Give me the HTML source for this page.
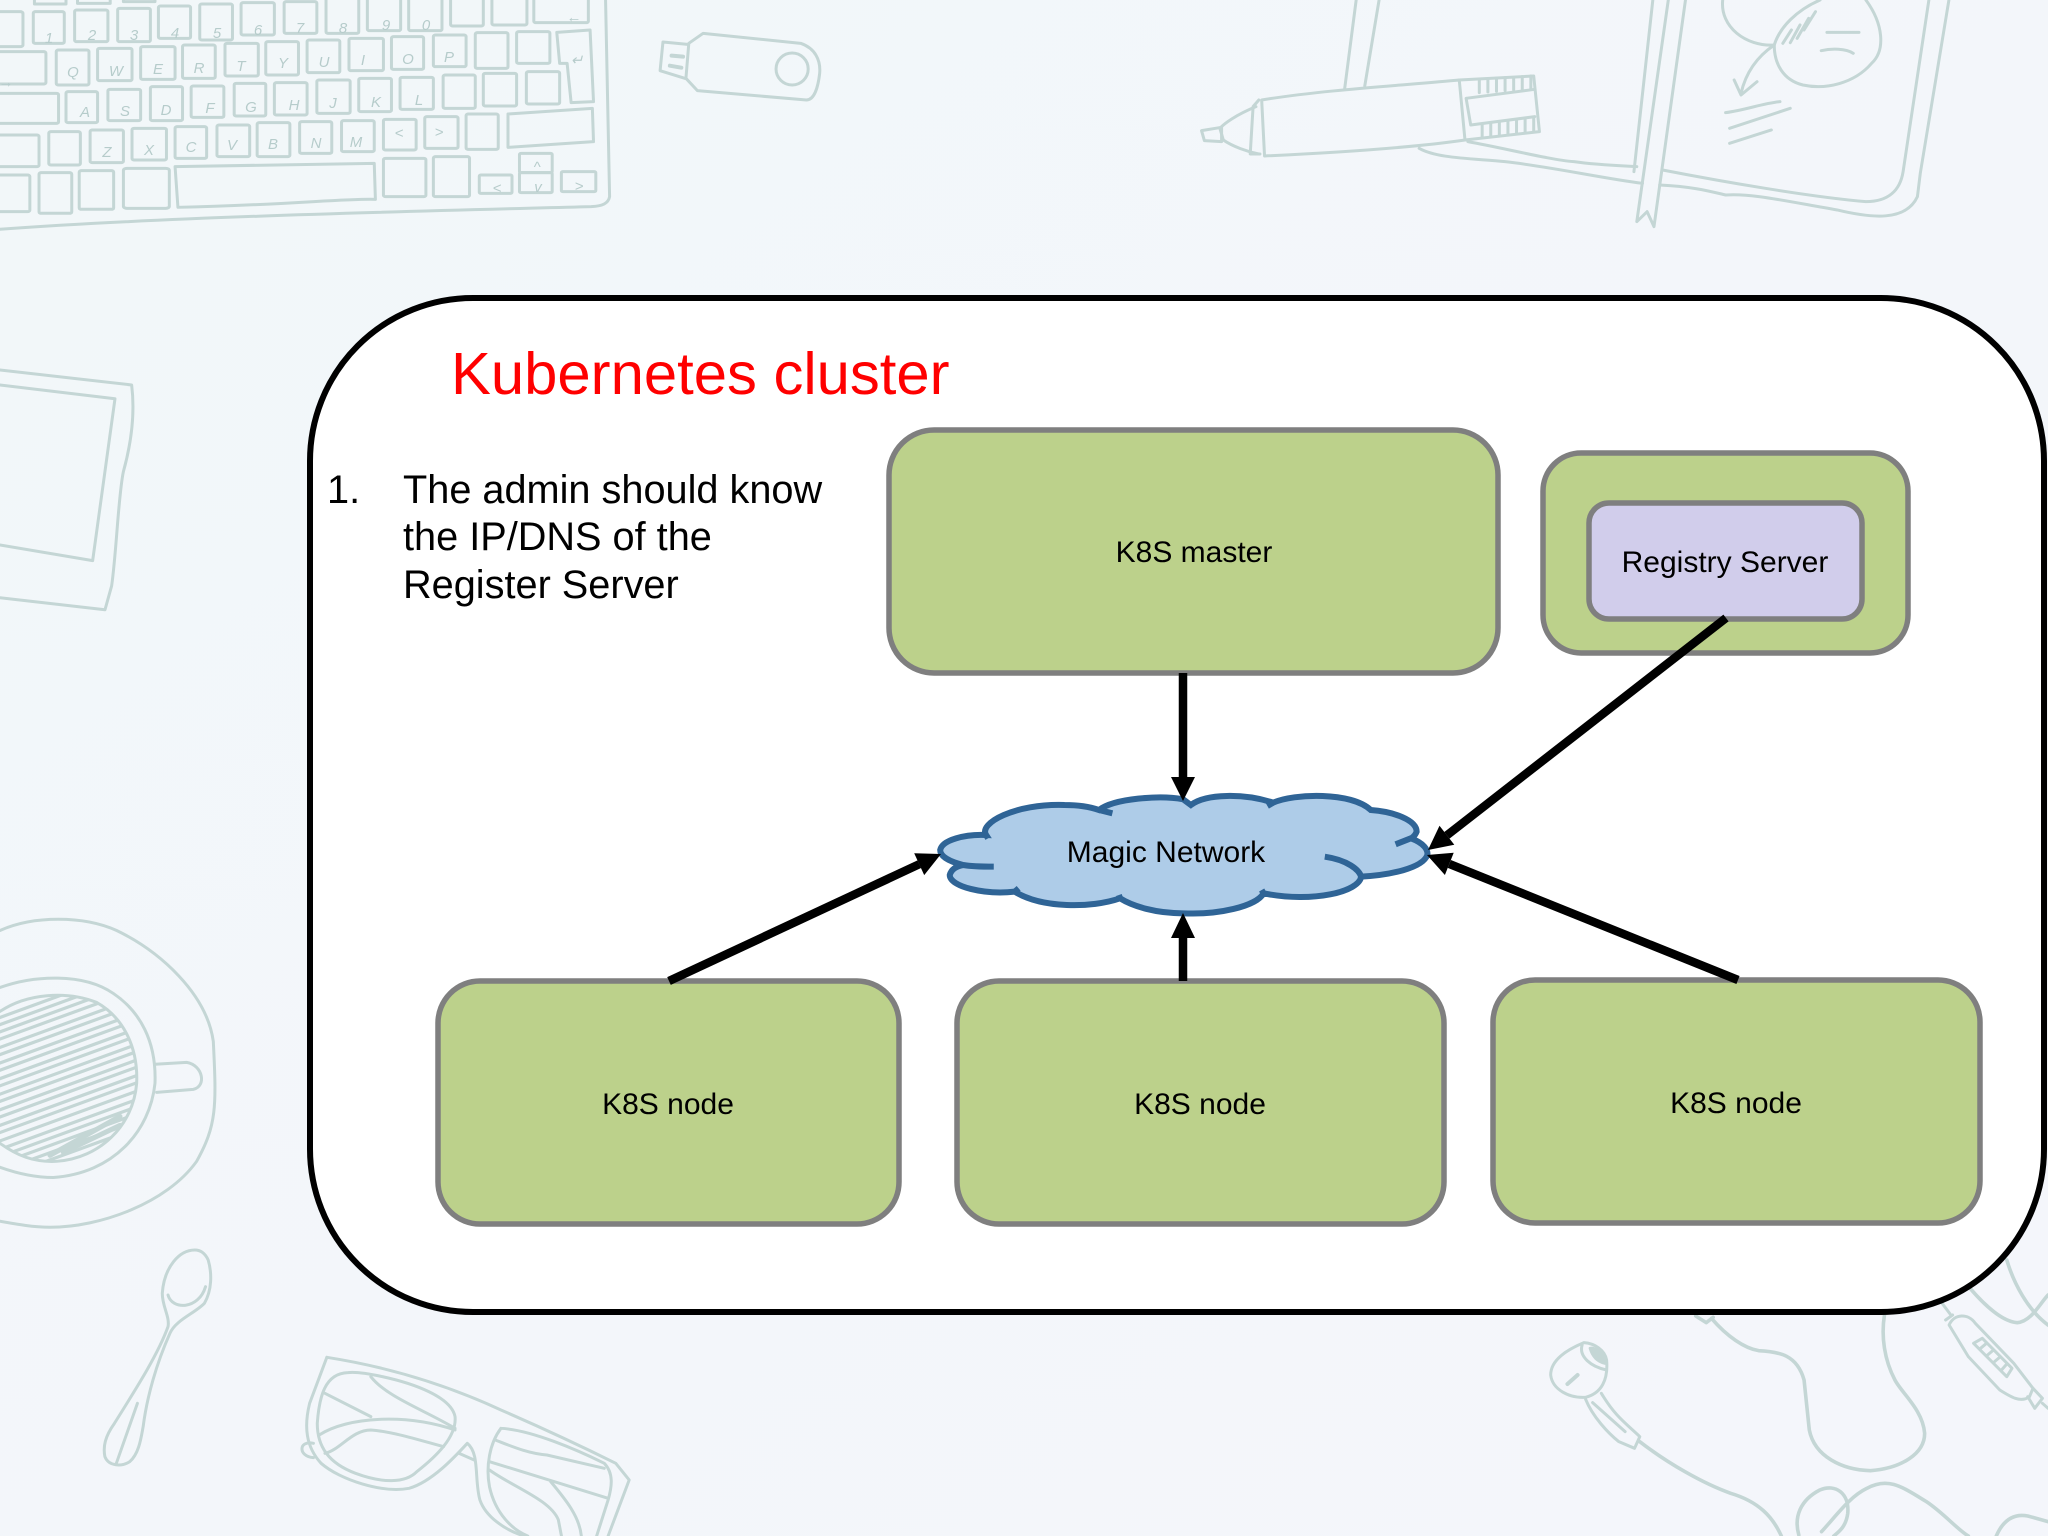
<!DOCTYPE html>
<html><head><meta charset="utf-8"><title>Kubernetes cluster</title>
<style>
html,body{margin:0;padding:0;width:2048px;height:1536px;overflow:hidden;background:#f3f6fa}
svg{display:block}
text{font-family:"Liberation Sans",sans-serif}
.s *{fill:none;stroke:#c4d6d5;stroke-width:3;stroke-linecap:round;stroke-linejoin:round;vector-effect:non-scaling-stroke}
.k text{font-size:15px;fill:#b6cccb;text-anchor:middle;font-style:italic}
</style></head><body>
<svg width="2048" height="1536" viewBox="0 0 2048 1536" xmlns="http://www.w3.org/2000/svg">
<defs><linearGradient id="bg" x1="0" y1="0" x2="1" y2="1"><stop offset="0" stop-color="#f2f7f9"/><stop offset="1" stop-color="#f4f6fb"/></linearGradient>
<clipPath id="cupclip"><path d="M0 1120 C80 1090 200 1085 290 1105 C370 1130 415 1180 410 1240 C400 1310 300 1365 170 1370 C100 1372 50 1360 0 1340 Z"/></clipPath></defs>
<rect width="2048" height="1536" fill="url(#bg)"/>

<!-- keyboard -->
<g class="s" transform="scale(.574,.3333)">
<path d="M1055 0 L1062 590 C1060 610 1050 618 1030 620 C700 635 300 650 0 688"/>
<rect x="-5" y="35" width="45" height="105" rx="5"/><rect x="58" y="35" width="54" height="95" rx="4"/><rect x="130" y="30" width="58" height="95" rx="4"/><rect x="205" y="25" width="57" height="100" rx="4"/><rect x="276" y="18" width="56" height="97" rx="4"/><rect x="348" y="12" width="57" height="108" rx="4"/><rect x="420" y="8" width="58" height="97" rx="4"/><rect x="495" y="5" width="57" height="95" rx="4"/><rect x="568" y="-10" width="57" height="110" rx="4"/><rect x="640" y="-10" width="58" height="102" rx="4"/><rect x="712" y="-10" width="58" height="102" rx="4"/><rect x="785" y="-10" width="57" height="88" rx="4"/><rect x="857" y="-10" width="61" height="85" rx="4"/><rect x="930" y="-10" width="95" height="78" rx="4"/>
<path d="M60 0V12H115V0M135 0V10H192V0M215 0V5H270V0"/>
<rect x="-5" y="155" width="85" height="97" rx="4"/><rect x="98" y="150" width="57" height="105" rx="4"/><rect x="170" y="145" width="60" height="97" rx="4"/><rect x="245" y="140" width="60" height="98" rx="4"/><rect x="318" y="135" width="57" height="100" rx="4"/><rect x="392" y="130" width="58" height="98" rx="4"/><rect x="463" y="125" width="57" height="100" rx="4"/><rect x="535" y="120" width="57" height="98" rx="4"/><rect x="608" y="115" width="60" height="97" rx="4"/><rect x="682" y="110" width="56" height="98" rx="4"/><rect x="755" y="105" width="57" height="95" rx="4"/><rect x="828" y="98" width="57" height="107" rx="4"/><rect x="900" y="95" width="58" height="95" rx="4"/>
<path d="M970 97 L1028 90 L1034 305 L995 308 L988 190 L975 190 Z"/>
<rect x="-5" y="280" width="107" height="90" rx="4"/><rect x="115" y="275" width="55" height="93" rx="4"/><rect x="188" y="268" width="57" height="94" rx="4"/><rect x="262" y="260" width="56" height="102" rx="4"/><rect x="333" y="258" width="57" height="94" rx="4"/><rect x="408" y="250" width="55" height="98" rx="4"/><rect x="478" y="248" width="57" height="97" rx="4"/><rect x="552" y="240" width="58" height="100" rx="4"/><rect x="625" y="235" width="57" height="100" rx="4"/><rect x="697" y="232" width="58" height="96" rx="4"/><rect x="772" y="225" width="56" height="100" rx="4"/><rect x="842" y="220" width="58" height="98" rx="4"/><rect x="917" y="215" width="58" height="97" rx="4"/>
<rect x="-5" y="405" width="73" height="95" rx="4"/><rect x="85" y="395" width="55" height="100" rx="4"/><rect x="157" y="390" width="58" height="98" rx="4"/><rect x="230" y="385" width="60" height="95" rx="4"/><rect x="305" y="380" width="55" height="95" rx="4"/><rect x="378" y="375" width="57" height="95" rx="4"/><rect x="448" y="368" width="57" height="102" rx="4"/><rect x="522" y="365" width="56" height="95" rx="4"/><rect x="595" y="362" width="57" height="93" rx="4"/><rect x="668" y="358" width="57" height="92" rx="4"/><rect x="740" y="350" width="58" height="95" rx="4"/><rect x="812" y="342" width="56" height="106" rx="4"/>
<path d="M885 342 L1032 325 L1034 425 L885 442 Z"/>
<rect x="-5" y="525" width="57" height="110" rx="4"/><rect x="68" y="518" width="57" height="122" rx="4"/><rect x="138" y="512" width="60" height="116" rx="4"/><rect x="215" y="505" width="80" height="120" rx="6"/>
<path d="M305 500 L652 490 L654 598 C600 595 500 615 310 622 Z"/>
<rect x="668" y="475" width="74" height="115" rx="4"/><rect x="755" y="470" width="63" height="120" rx="4"/><rect x="835" y="525" width="57" height="55" rx="3"/><rect x="905" y="460" width="57" height="58" rx="3"/><rect x="905" y="518" width="57" height="60" rx="3"/><rect x="978" y="515" width="60" height="60" rx="3"/>
<!-- usb -->
<path d="M1200 130 L1225 100 L1395 130 C1420 145 1430 180 1428 220 C1425 265 1418 300 1405 300 L1215 272 L1195 235 Z"/>
<path d="M1198 133 L1155 126 L1150 212 L1193 235"/>
<ellipse cx="1380" cy="207" rx="28" ry="48"/>
<path d="M1170 167 L1190 170M1167 197 L1187 203" style="stroke-width:4"/>
</g>
<g class="k">
<text x="49" y="43">1</text><text x="92" y="40">2</text><text x="134" y="40">3</text><text x="175" y="38">4</text><text x="217" y="38">5</text><text x="258" y="35">6</text><text x="300" y="33">7</text><text x="343" y="33">8</text><text x="386" y="30">9</text><text x="426" y="30">0</text><text x="574" y="22">←</text>
<text x="73" y="77">Q</text><text x="116" y="76">W</text><text x="158" y="74">E</text><text x="199" y="73">R</text><text x="241" y="71">T</text><text x="283" y="68">Y</text><text x="324" y="67">U</text><text x="363" y="65">I</text><text x="408" y="64">O</text><text x="449" y="62">P</text><text x="577" y="65">↵</text><text x="6" y="87">→</text>
<text x="85" y="117">A</text><text x="125" y="116">S</text><text x="166" y="115">D</text><text x="210" y="113">F</text><text x="251" y="112">G</text><text x="294" y="110">H</text><text x="333" y="108">J</text><text x="376" y="107">K</text><text x="419" y="105">L</text>
<text x="107" y="157">Z</text><text x="149" y="155">X</text><text x="191" y="152">C</text><text x="232" y="150">V</text><text x="273" y="149">B</text><text x="316" y="148">N</text><text x="356" y="147">M</text><text x="399" y="138">&lt;</text><text x="439" y="137">&gt;</text>
<text x="537" y="172">^</text><text x="538" y="192">v</text><text x="497" y="193">&lt;</text><text x="579" y="191">&gt;</text>
</g>

<!-- marker + notebook -->
<g class="s" transform="translate(1150,0) scale(.5727,.3333)">
<path d="M195 300 C300 270 450 255 540 240 L550 420 C450 445 300 460 200 468 Z"/>
<path d="M190 300 L180 320 L175 462 L192 462"/>
<path d="M185 320 C150 345 130 370 122 385 L128 420 C145 440 170 455 190 462"/>
<path d="M90 392 L125 382 L125 425 L95 422Z"/>
<path d="M540 240 L670 228 L680 395 L550 420"/>
<path d="M552 295 L672 268M560 375 L672 350M552 295 L560 375"/>
<path d="M575 238V278M590 236V276M605 234V274M620 233V272M635 232V270M650 230V268M665 228V265M580 372V410M595 370V408M610 368V405M625 365V402M640 362V400M655 358V398M670 354V396"/>
<path d="M360 0 L340 265M400 0 L375 258"/>
<path d="M555 425 C620 445 700 480 740 485 C780 495 830 498 850 500"/>
<path d="M470 445 C500 475 560 475 620 485 C700 500 790 535 860 550"/>
<path d="M895 510 C1000 545 1150 590 1250 605 C1290 605 1310 570 1315 515 L1360 0"/>
<path d="M890 555 C950 560 980 575 1005 585 C1050 580 1100 600 1200 630 C1260 655 1320 665 1340 590 L1345 520 L1395 0"/>
<path d="M878 0 L845 515M905 0 L850 665 L868 635 L880 680 L935 0"/>
<path d="M1000 0 C995 80 1040 140 1090 135M1250 0 C1280 70 1285 150 1260 190 C1230 250 1180 270 1140 255 C1105 240 1090 190 1090 135 C1100 80 1130 30 1170 0"/>
<path d="M1090 135 C1060 170 1040 220 1032 280M1020 240 L1032 285 L1060 245"/>
<path d="M1105 130 L1120 90M1118 128 L1135 75M1130 115 L1150 55M1142 90 L1162 35"/>
<path d="M1182 97 H1238M1172 152 C1190 145 1215 145 1228 160M1005 338 C1040 330 1070 310 1100 305M1012 385 L1118 325M1012 430 L1085 390"/>
</g>

<!-- tablet + cup -->
<g class="s" transform="translate(0,340) scale(.3333,.5995)">
<path d="M0 50 L395 75 C405 120 395 170 370 220 C355 260 350 350 335 410 L315 450 L0 430"/>
<path d="M0 75 L345 98 L278 368 L0 342"/>
<path d="M0 985 C100 960 250 960 350 985 C480 1020 620 1090 640 1170 C650 1280 650 1310 590 1370 C500 1440 300 1480 150 1480 C100 1480 50 1475 0 1470"/>
<path d="M0 1080 C100 1060 250 1055 340 1090 C420 1120 470 1170 465 1240 C450 1320 340 1390 160 1397 C100 1397 50 1390 0 1380"/>
<path d="M0 1120 C80 1090 200 1085 290 1105 C370 1130 415 1180 410 1240 C400 1310 300 1365 170 1370 C100 1372 50 1360 0 1340"/>
<path d="M465 1208 L560 1205 C610 1210 620 1245 580 1250 L470 1255"/>
<g clip-path="url(#cupclip)">
<path style="stroke-width:3.2" d="M0 1130 L420 1045M0 1142 L420 1057M0 1154 L420 1069M0 1166 L420 1081M0 1180 L420 1095M0 1192 L420 1107M0 1206 L420 1121M0 1218 L420 1133M0 1232 L420 1147M0 1244 L420 1159M0 1258 L420 1173M0 1270 L420 1185M0 1284 L420 1199M0 1296 L420 1211M0 1310 L420 1225M0 1322 L420 1237M0 1336 L420 1251M0 1350 L420 1265M0 1362 L420 1277M0 1374 L420 1289M0 1386 L420 1301M0 1398 L420 1313"/>
<path style="stroke-width:5" d="M150 1360 L360 1295M190 1355 L360 1310"/>
</g>
</g>

<!-- spoon + glasses -->
<g class="s" transform="translate(80,1230) scale(.3827,.3333)">
<path d="M300 60 C260 60 220 110 215 190 C215 230 235 260 230 290 C205 370 150 470 90 580 C65 620 60 650 65 680 C75 710 110 710 130 695 C155 670 160 620 165 590 C175 500 200 400 235 310 C250 270 300 250 325 220 C345 180 345 130 335 90 C325 65 310 60 300 60 Z"/>
<path d="M230 195 C240 240 310 240 328 170M150 520 L95 700"/>
<path d="M645 382 C800 410 950 460 1100 540 C1220 600 1330 660 1400 700 L1435 750 L1380 918"/>
<path d="M645 382 L600 520 C585 590 590 650 630 700 C680 750 790 790 860 775 C920 755 980 680 1012 640 C1045 670 1030 750 1045 810 C1060 860 1110 900 1160 918"/>
<path d="M700 428 C640 430 625 500 620 580 C620 650 650 700 720 730 C790 760 850 760 880 725 C930 680 985 620 980 560 C970 500 870 460 790 440 C750 430 720 425 700 428 Z"/>
<path d="M1100 595 C1070 640 1060 710 1070 770 C1085 850 1130 900 1170 918M1100 595 C1180 600 1300 660 1370 700 C1395 730 1390 770 1380 810 L1350 918"/>
<path d="M640 490 L760 560M760 440 C800 500 900 540 980 595M625 615 C700 560 850 550 980 600M640 670 C680 660 710 600 760 600 C820 605 900 635 950 650M990 670 L1030 690M1085 630 C1130 650 1170 670 1220 675 L1370 715M1070 695 L1380 805M1070 720 C1130 770 1230 810 1250 870 L1258 918M1230 755 C1270 810 1305 860 1310 918"/>
<path d="M610 640 C570 630 570 680 610 683"/>
</g>

<!-- earphones -->
<g class="s" transform="translate(1500,1260) scale(.3495,.3333)">
<path d="M240 248 C190 270 145 300 145 345 C150 390 200 415 245 412 C290 400 310 360 305 300 C300 270 270 250 240 248 Z"/>
<path d="M235 255 C225 290 260 320 305 330"/>
<path d="M258 265 C275 260 305 290 300 310 C280 305 265 290 258 265Z" style="fill:#c4d6d5"/>
<path d="M193 372 L222 345" style="stroke-width:4"/>
<path d="M245 418 C265 470 310 520 340 545 L385 565 L400 530 C360 490 330 470 290 400M265 428 L358 515"/>
<path style="stroke-width:3.6" d="M400 545 C480 610 580 670 660 700 C740 725 780 770 805 828"/>
<path style="stroke-width:3.6" d="M605 175 C650 230 700 265 740 272 C800 275 850 285 870 360 L885 510 C900 590 980 630 1060 632 C1150 625 1215 580 1215 520 C1210 450 1150 400 1130 360 C1100 300 1090 230 1100 165M560 168 L590 188 L610 172"/>
<path style="stroke-width:3.6" d="M855 825 C840 770 860 720 915 690 C960 670 1000 700 995 760 C990 800 970 815 955 828M920 815 C960 770 1000 710 1050 685 C1110 650 1150 680 1220 725 C1270 760 1310 810 1340 828M1420 828 C1440 780 1470 760 1510 768 L1568 785"/>
<path d="M1285 195 C1300 160 1340 160 1360 190 L1470 310 L1525 385 L1515 410 C1490 430 1460 410 1430 390 L1340 290 Z"/>
<path d="M1265 130 L1290 165M1275 180 L1295 165M1510 410 L1530 445 L1552 415 L1525 385M1552 430 L1568 445"/>
<path d="M1355 250 L1380 235 L1465 325 L1450 350 Z M1375 265 L1392 250M1395 285 L1412 270M1415 305 L1432 290M1435 330 L1450 312"/>
<path style="stroke-width:3.6" d="M1345 85 C1390 140 1440 185 1480 188 C1520 185 1545 130 1568 105M1450 0 C1470 70 1510 150 1568 195"/>
</g>

<!-- cluster -->
<rect x="310" y="298" width="1734" height="1014" rx="163" ry="163" fill="#fff" stroke="#000" stroke-width="6"/>
<text x="451" y="394" font-size="59.8" fill="#ff0000">Kubernetes cluster</text>
<g font-size="39.7" fill="#000">
<text x="327" y="503">1.</text>
<text x="403" y="503">The admin should know</text>
<text x="403" y="550">the IP/DNS of the</text>
<text x="403" y="598">Register Server</text>
</g>

<g fill="#bcd18b" stroke="#7f7f7f" stroke-width="5.5">
<rect x="889" y="430" width="609" height="243" rx="45"/>
<rect x="1543" y="453" width="365" height="200" rx="38"/>
<rect x="438" y="981" width="461" height="243" rx="42"/>
<rect x="957" y="981" width="487" height="243" rx="42"/>
<rect x="1493" y="980" width="487" height="243" rx="42"/>
</g>
<rect x="1589" y="503" width="273" height="116" rx="20" fill="#d1cdeb" stroke="#7f7f7f" stroke-width="5.5"/>

<!-- cloud -->
<g transform="translate(900,760) scale(.3827,.3333)">
<path vector-effect="non-scaling-stroke" fill="#aecce8" stroke="#2f6496" stroke-width="6" d="M105 270 C110 240 170 222 225 225 C205 190 300 130 430 135 C470 135 500 142 520 150 C560 115 680 105 740 118 L760 135 C800 100 900 100 975 128 C1030 100 1180 95 1230 150 C1290 155 1350 180 1350 215 C1345 230 1335 235 1335 235 C1370 250 1380 270 1378 285 C1365 325 1280 345 1205 350 C1200 395 1080 430 950 400 C930 440 830 465 740 460 C670 460 610 440 575 415 C500 445 370 445 300 395 C220 405 130 380 130 345 C135 325 150 318 165 315 C130 305 105 290 105 270 Z"/>
<path vector-effect="non-scaling-stroke" fill="none" stroke="#2f6496" stroke-width="6" d="M225 225 L230 235M165 315 C190 320 220 320 245 320M300 395 L310 385M520 150 L555 160M975 128 L960 138M1295 253 L1335 235M1110 290 C1170 300 1200 330 1205 350M575 415 L572 405M950 400 L945 390"/>
</g>
<text x="1166" y="862" font-size="30" text-anchor="middle" fill="#000">Magic Network</text>
<g font-size="30" text-anchor="middle" fill="#000">
<text x="1194" y="562">K8S master</text>
<text x="1725" y="572">Registry Server</text>
<text x="668" y="1114">K8S node</text>
<text x="1200" y="1114">K8S node</text>
<text x="1736" y="1113">K8S node</text>
</g>

<!-- arrows -->
<g stroke="#000" stroke-width="8.5" fill="none">
<path d="M1183 673 V778"/>
<path d="M1183 981 V937"/>
<path d="M669 981 L919.3 864.2"/>
<path d="M1726 618 L1446.9 835.3"/>
<path d="M1738 980 L1449.3 863.9"/>
</g>
<g fill="#000">
<polygon points="1183,801 1171,777 1195,777"/>
<polygon points="1183,913 1171,938 1195,938"/>
<polygon points="941,854 924.2,875.1 914.2,853.3"/>
<polygon points="1428,850 1454.3,844.8 1439.5,825.8"/>
<polygon points="1427,855 1453.7,852.8 1444.9,875"/>
</g>
</svg>
</body></html>
